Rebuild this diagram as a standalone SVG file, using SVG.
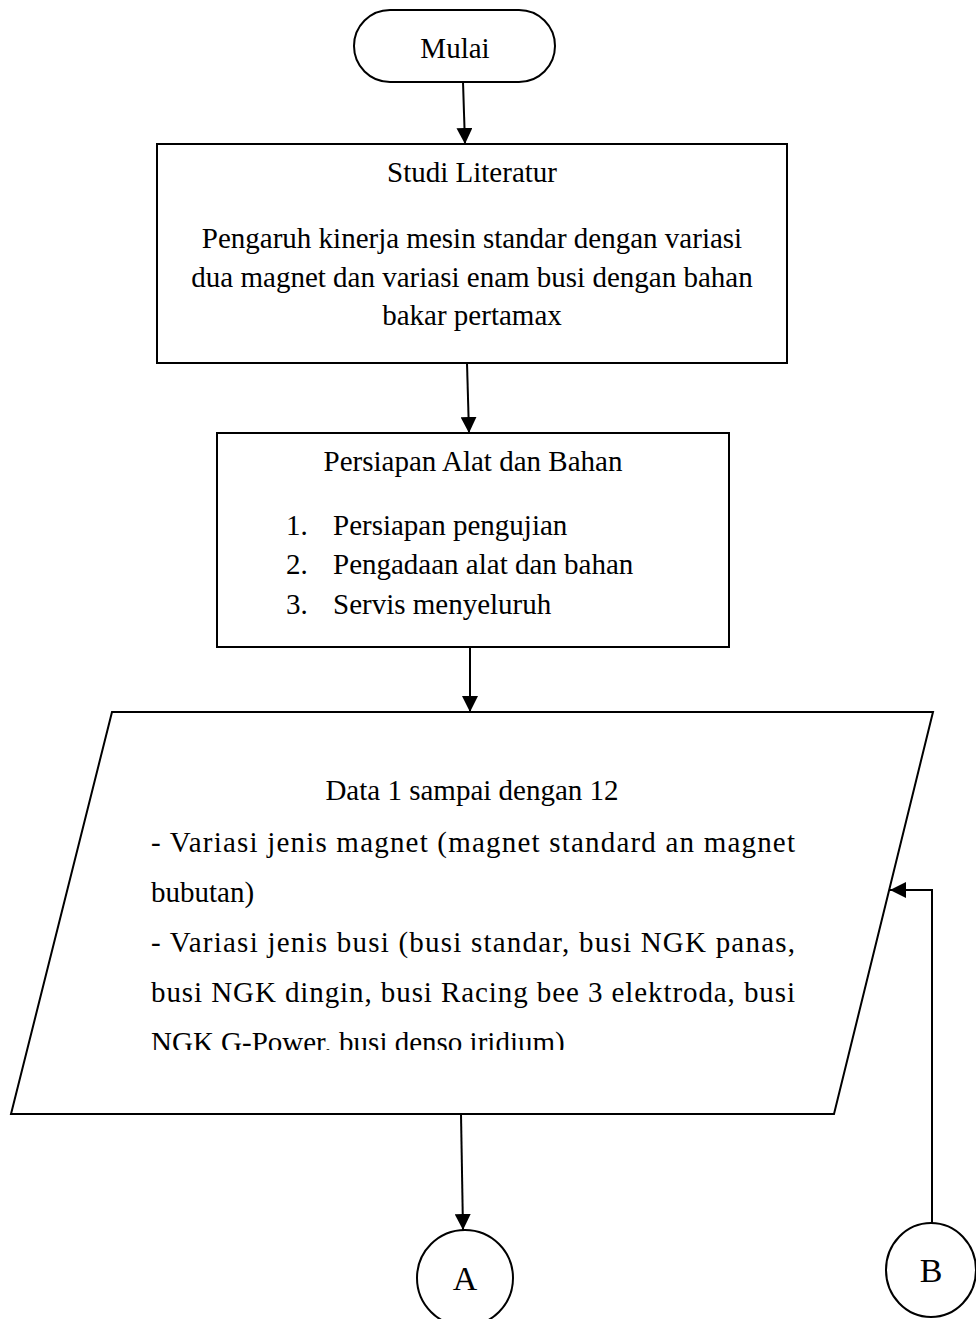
<svg xmlns="http://www.w3.org/2000/svg" width="976" height="1319" viewBox="0 0 976 1319">
<style>
.shape{fill:#fff;stroke:#000;stroke-width:2}
.t{font-family:"Liberation Serif","Times New Roman",serif;font-size:29px;fill:#000}
.c{text-anchor:middle}
.big{font-size:34px}
.conn{fill:none;stroke:#000;stroke-width:2}
</style>
<defs>
<marker id="arr" markerUnits="userSpaceOnUse" markerWidth="18" markerHeight="16" refX="16" refY="8" orient="auto">
<path d="M0,0 L16,8 L0,16 Z" fill="#000"/>
</marker>
<clipPath id="clipData"><rect x="0" y="760" width="976" height="290"/></clipPath>
</defs>
<rect width="976" height="1319" fill="#fff"/>
<g id="connectors">
<path class="conn" d="M463,82 L465,144" marker-end="url(#arr)"/>
<path class="conn" d="M467,363 L469,433" marker-end="url(#arr)"/>
<path class="conn" d="M470,647 L470,712" marker-end="url(#arr)"/>
<path class="conn" d="M461,1114 L463,1230" marker-end="url(#arr)"/>
<path class="conn" d="M932,1224 L932,890 L890,890" marker-end="url(#arr)"/>
</g>
<g id="mulai">
<rect class="shape" x="354" y="10" width="201" height="72" rx="36" ry="36"/>
<text class="t c" x="455" y="58">Mulai</text>
</g>
<g id="studi">
<rect class="shape" x="157" y="144" width="630" height="219"/>
<text class="t c" x="472" y="182">Studi Literatur</text>
<text class="t c" x="472" y="248">Pengaruh kinerja mesin standar dengan variasi</text>
<text class="t c" x="472" y="287">dua magnet dan variasi enam busi dengan bahan</text>
<text class="t c" x="472" y="325">bakar pertamax</text>
</g>
<g id="persiapan">
<rect class="shape" x="217" y="433" width="512" height="214"/>
<text class="t c" x="473" y="471">Persiapan Alat dan Bahan</text>
<text class="t" x="286" y="535">1.</text><text class="t" x="333" y="535">Persiapan pengujian</text>
<text class="t" x="286" y="574">2.</text><text class="t" x="333" y="574">Pengadaan alat dan bahan</text>
<text class="t" x="286" y="614">3.</text><text class="t" x="333" y="614">Servis menyeluruh</text>
</g>
<g id="data">
<polygon class="shape" points="112,712 933,712 834,1114 11,1114"/>
<text class="t c" x="472" y="800">Data 1 sampai dengan 12</text>
<g clip-path="url(#clipData)">
<text class="t" x="151" y="852" textLength="644" lengthAdjust="spacing">- Variasi jenis magnet (magnet standard an magnet</text>
<text class="t" x="151" y="902">bubutan)</text>
<text class="t" x="151" y="952" textLength="644" lengthAdjust="spacing">- Variasi jenis busi (busi standar, busi NGK panas,</text>
<text class="t" x="151" y="1002" textLength="644" lengthAdjust="spacing">busi NGK dingin, busi Racing bee 3 elektroda, busi</text>
<text class="t" x="151" y="1052">NGK G-Power, busi denso iridium)</text>
</g>
</g>
<g id="A">
<ellipse class="shape" cx="465" cy="1278" rx="48" ry="48"/>
<text class="t c big" x="465" y="1290">A</text>
</g>
<g id="B">
<ellipse class="shape" cx="931" cy="1270" rx="45" ry="47"/>
<text class="t c big" x="931" y="1282">B</text>
</g>
</svg>
